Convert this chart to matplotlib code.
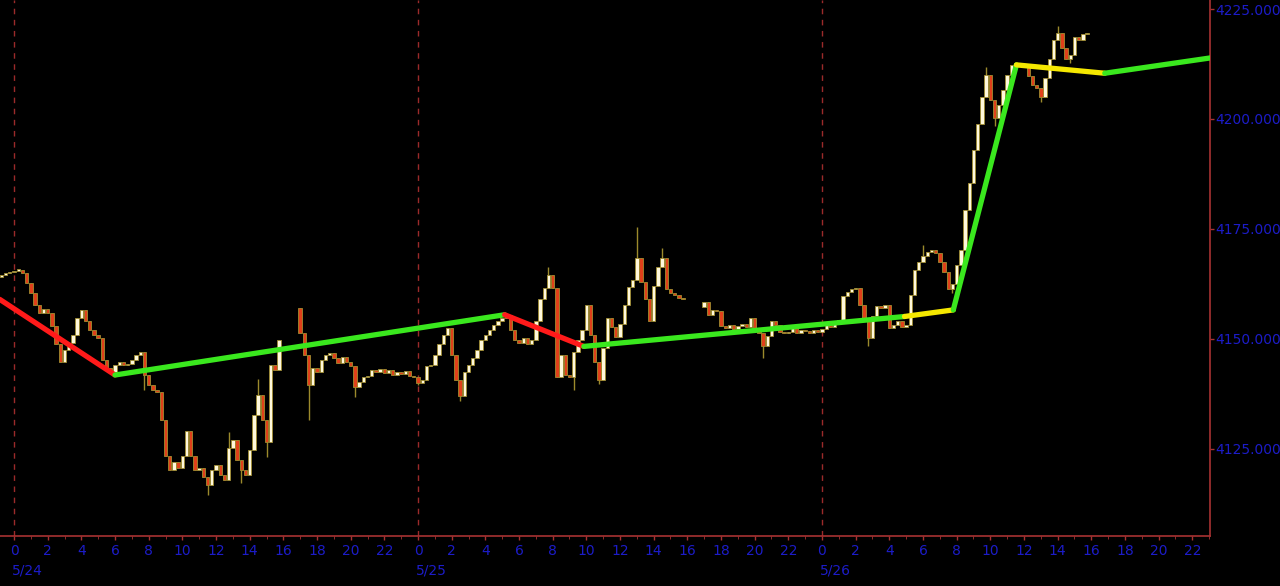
import pandas as pd
import matplotlib
matplotlib.use("Agg")
import matplotlib.pyplot as plt
from matplotlib.transforms import blended_transform_factory

# 15-minute closes, one line per hour
close_a = [  # 5/23 23:15 -> 5/24 15:45
    4164.5, 4165.0, 4165.25,
    4165.5, 4165.75, 4165.0, 4162.75,
    4160.5, 4157.75, 4156.0, 4156.75,
    4156.0, 4153.0, 4148.75, 4144.75,
    4147.5, 4149.0, 4151.0, 4154.75,
    4156.5, 4154.0, 4152.0, 4151.0,
    4150.25, 4145.25, 4143.5, 4142.5,
    4144.0, 4144.75, 4144.0, 4144.25,
    4145.25, 4146.25, 4147.0, 4141.75,
    4139.5, 4138.5, 4138.0, 4131.5,
    4123.5, 4120.25, 4122.0, 4120.75,
    4123.5, 4129.0, 4123.5, 4120.25,
    4120.75, 4118.5, 4116.75, 4120.25,
    4121.25, 4119.0, 4118.0, 4125.25,
    4127.0, 4122.5, 4120.25, 4119.0,
    4124.75, 4132.75, 4137.25, 4131.5,
    4126.5, 4144.0, 4143.0, 4149.75,
]
close_b = [  # 5/24 17:00 -> 5/25 15:45
    4151.25, 4146.25, 4139.5, 4143.5,
    4142.5, 4145.25, 4146.25, 4146.75,
    4145.75, 4144.5, 4146.0, 4144.75,
    4143.75, 4139.0, 4140.25, 4141.25,
    4141.5, 4143.0, 4142.5, 4143.25,
    4142.25, 4143.0, 4141.75, 4142.5,
    4142.0, 4142.75, 4141.5, 4141.25,
    4140.0, 4140.75, 4143.75, 4144.0,
    4146.25, 4148.75, 4151.0, 4152.5,
    4146.25, 4140.75, 4137.0, 4142.5,
    4144.0, 4145.75, 4147.5, 4149.75,
    4151.0, 4152.0, 4153.25, 4154.0,
    4154.75, 4155.5, 4152.0, 4149.75,
    4149.0, 4150.25, 4148.75, 4149.75,
    4154.0, 4159.0, 4161.5, 4164.5,
    4161.5, 4141.25, 4146.25, 4141.75,
    4141.25, 4147.0, 4149.75, 4152.0,
    4157.75, 4151.0, 4144.75, 4140.75,
    4148.0, 4154.75, 4152.75, 4150.5,
    4153.5, 4157.75, 4161.75, 4163.5,
    4168.5, 4163.0, 4159.0, 4154.0,
    4162.0, 4166.25, 4168.5, 4161.25,
    4160.5, 4160.0, 4159.25, 4159.0,
]
close_c = [  # 5/25 17:00 -> 5/26 15:45
    4158.5, 4155.5, 4156.5, 4156.25,
    4153.0, 4152.5, 4153.25, 4152.25,
    4153.0, 4153.5, 4152.75, 4154.75,
    4152.0, 4151.25, 4148.5, 4150.75,
    4154.0, 4153.25, 4151.5, 4151.25,
    4151.5, 4152.5, 4151.25, 4152.0,
    4151.75, 4151.25, 4152.0, 4151.5,
    4152.25, 4153.25, 4152.75, 4153.75,
    4154.25, 4159.75, 4160.75, 4161.25,
    4161.5, 4157.75, 4154.75, 4150.25,
    4155.25, 4157.5, 4157.0, 4157.75,
    4152.5, 4153.25, 4154.0, 4152.75,
    4153.25, 4160.0, 4165.75, 4167.5,
    4168.75, 4169.75, 4170.25, 4169.5,
    4167.5, 4165.25, 4161.25, 4162.5,
    4166.75, 4170.25, 4179.25, 4185.5,
    4193.0, 4198.75, 4205.0, 4210.0,
    4204.25, 4200.25, 4203.25, 4206.5,
    4210.0, 4212.25, 4212.75, 4212.0,
    4212.5, 4209.75, 4207.75, 4207.0,
    4205.0, 4209.25, 4213.75, 4218.0,
    4219.5, 4216.25, 4213.75, 4214.5,
    4218.75, 4218.0, 4219.25, 4219.5,
]
session_starts = ["2023-05-23 23:15", "2023-05-24 17:00", "2023-05-25 17:00"]
session_opens = [4164.0, 4157.0, 4157.25]

# long shadows
extra_high = {
    "2023-05-24 12:45": 4128.75, "2023-05-24 14:30": 4141.0,
    "2023-05-25 07:45": 4166.25, "2023-05-25 13:00": 4175.5,
    "2023-05-25 14:30": 4170.75, "2023-05-26 06:00": 4171.25,
    "2023-05-26 09:45": 4211.75, "2023-05-26 14:00": 4221.25,
}
extra_low = {
    "2023-05-24 07:45": 4138.5, "2023-05-24 11:30": 4114.5,
    "2023-05-24 13:30": 4117.25, "2023-05-24 15:00": 4123.25,
    "2023-05-24 17:30": 4131.5, "2023-05-24 20:15": 4136.75,
    "2023-05-25 00:00": 4139.5, "2023-05-25 02:30": 4136.0,
    "2023-05-25 09:15": 4138.5, "2023-05-25 10:45": 4139.75,
    "2023-05-25 20:30": 4145.75, "2023-05-26 02:45": 4148.5,
    "2023-05-26 07:45": 4160.5, "2023-05-26 10:15": 4198.5,
    "2023-05-26 13:00": 4203.75, "2023-05-26 14:45": 4212.75,
}

# overlay line: vertices (hours from 5/24 00:00) and segment colours
line_x = [-0.85, 6.0, 29.15, 33.85, 52.9, 55.8, 59.55, 64.8, 71.1]
line_y = [4159.0, 4141.8, 4155.5, 4148.3, 4155.1, 4156.6, 4212.3, 4210.4, 4213.9]
line_col = ["#ff1a1a", "#3ae81e", "#ff1a1a", "#3ae81e", "#f5e800", "#3ae81e", "#f5e800", "#3ae81e"]

y_ticks = [4125, 4150, 4175, 4200, 4225]
day_labels = ["5/24", "5/25", "5/26"]

frames = []
for start, op, closes in zip(session_starts, session_opens, [close_a, close_b, close_c]):
    idx = pd.date_range(start, periods=len(closes), freq="15min")
    d = pd.DataFrame({"close": closes}, index=idx)
    d["open"] = d["close"].shift(1).fillna(op)
    frames.append(d)
df = pd.concat(frames)
df["high"] = df[["open", "close"]].max(axis=1)
df["low"] = df[["open", "close"]].min(axis=1)
for k, v in extra_high.items():
    df.loc[pd.Timestamp(k), "high"] = v
for k, v in extra_low.items():
    df.loc[pd.Timestamp(k), "low"] = v
df["x"] = (df.index - pd.Timestamp("2023-05-24")) / pd.Timedelta(hours=1)

BLUE = "#1c1cc8"
AXRED = "#a83232"

fig = plt.figure(figsize=(12.8, 5.86), dpi=100, facecolor="black")
ax = fig.add_axes([0, 50 / 586, 1210 / 1280, 536 / 586], facecolor="black")

for h in [0, 24, 48]:
    ax.axvline(h, color="#9b2a2a", lw=1, ls=(0, (4, 4)), zorder=1)

up = df["close"] >= df["open"]
body_lo = df[["open", "close"]].min(axis=1)
body_h = (df["close"] - df["open"]).abs().clip(lower=0.3)
ax.vlines(df["x"], df["low"], df["high"], color="#9c8a2c", lw=1, zorder=2)
ax.bar(df["x"][up], body_h[up], bottom=body_lo[up], width=0.2,
       color="#fff8dc", edgecolor="#a08c30", linewidth=0.6, zorder=3)
ax.bar(df["x"][~up], body_h[~up], bottom=body_lo[~up], width=0.2,
       color="#e0401a", edgecolor="#a08c30", linewidth=0.6, zorder=3)

for i, c in enumerate(line_col):
    ax.plot(line_x[i:i + 2], line_y[i:i + 2], color=c, lw=3.8,
            solid_capstyle="round", zorder=4)

ax.set_xlim(-0.832, 71.05)
ax.set_ylim(4105.2, 4227.05)

for s in ["top", "left"]:
    ax.spines[s].set_visible(False)
for s in ["bottom", "right"]:
    ax.spines[s].set_color(AXRED)
    ax.spines[s].set_linewidth(1.2)

ax.yaxis.tick_right()
ax.set_yticks(y_ticks)
ax.set_yticklabels([f"{v:.3f}" for v in y_ticks])
ax.set_xticks(range(0, 71, 2))
ax.set_xticklabels([str(h % 24) for h in range(0, 71, 2)])
ax.set_xticks(range(0, 72), minor=True)
ax.tick_params(axis="both", colors=AXRED, labelcolor=BLUE, labelsize=10, length=3, width=1)
ax.tick_params(axis="y", pad=1)
ax.tick_params(axis="x", pad=3)
ax.tick_params(axis="x", which="minor", colors=AXRED, length=2)

tr = blended_transform_factory(ax.transData, ax.transAxes)
for i, lab in enumerate(day_labels):
    ax.text(24 * i - 0.15, -0.065, lab, transform=tr, color=BLUE, fontsize=10,
            ha="left", va="center")

fig.savefig("out.png", dpi=100, facecolor="black")
